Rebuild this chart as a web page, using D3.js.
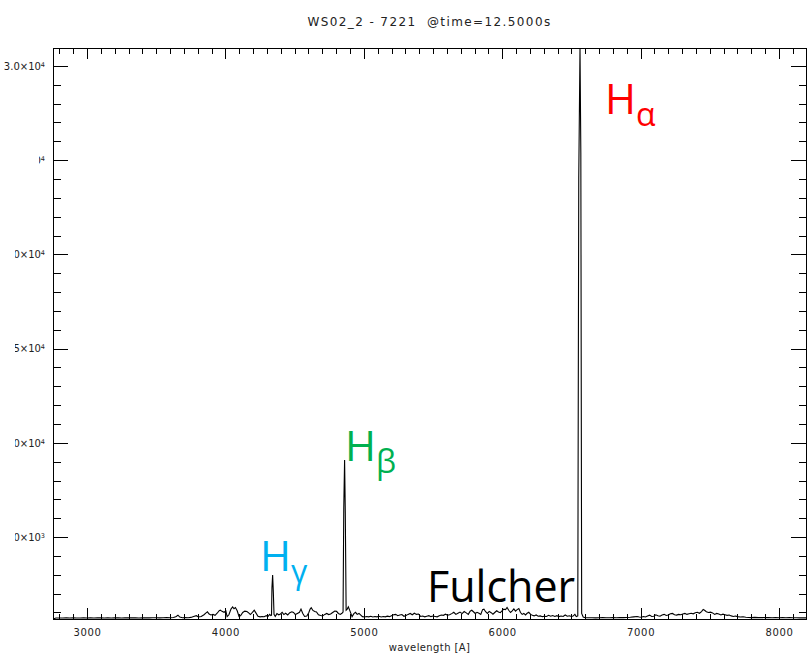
<!DOCTYPE html>
<html>
<head>
<meta charset="utf-8">
<script src="https://cdn.jsdelivr.net/npm/d3@7"></script>
<style>
  body { margin: 0; background: #fff; }
  svg { display: block; }
</style>
</head>
<body>
<svg id="chart" width="808" height="656"></svg>
<script>
// Spectrum: [wavelength (Å), counts]
const spectrum = [
  [2754,655],[2775,705],[2800,712],[2825,706],[2850,715],[2875,708],[2900,714],[2925,707],[2950,712],[2975,718],
  [3000,710],[3025,716],[3050,708],[3075,714],[3100,720],[3125,711],[3150,716],[3175,709],[3200,714],[3225,720],
  [3250,712],[3275,716],[3300,722],[3325,713],[3350,718],[3375,711],[3400,716],[3425,722],[3450,714],[3475,719],
  [3500,725],[3525,716],[3550,721],[3575,728],[3600,720],[3625,735],[3645,790],[3657,860],[3670,760],[3690,725],
  [3710,730],[3730,722],[3750,740],[3770,790],[3790,830],[3805,760],[3825,790],[3845,880],[3860,980],[3870,1035],
  [3882,920],[3895,870],[3910,900],[3925,850],[3940,960],[3955,1100],[3963,1125],[3975,1060],[3990,1010],[4003,1080],
  [4012,780],[4025,880],[4040,1180],[4052,1300],[4062,1200],[4072,1260],[4085,1090],[4098,790],[4110,840],[4125,1000],
  [4140,1072],[4155,1050],[4168,980],[4180,890],[4195,1010],[4208,1125],[4220,980],[4235,800],[4250,770],[4265,790],
  [4280,775],[4295,830],[4308,790],[4320,900],[4328,840],[4333,860],[4336,2300],[4341,2985],[4346,2100],[4351,900],
  [4360,790],[4372,940],[4385,880],[4398,920],[4410,1010],[4422,890],[4435,960],[4450,870],[4465,990],[4480,1040],
  [4492,1000],[4505,890],[4520,950],[4535,1010],[4546,1180],[4558,960],[4572,790],[4588,810],[4602,990],[4612,1180],
  [4620,1250],[4632,1110],[4645,1050],[4658,1030],[4672,880],[4688,840],[4702,820],[4718,900],[4732,950],[4746,890],
  [4760,920],[4775,1000],[4790,1080],[4803,1060],[4816,950],[4830,900],[4842,960],[4850,1020],[4855,6540],[4861,9090],
  [4866,6300],[4872,1120],[4880,1180],[4888,1300],[4896,1150],[4905,980],[4915,780],[4928,940],[4940,1010],[4952,900],
  [4965,950],[4978,860],[4990,780],[5005,760],[5020,790],[5035,770],[5050,800],[5065,760],[5080,785],[5095,770],
  [5110,800],[5125,765],[5140,790],[5155,770],[5170,805],[5185,780],[5200,830],[5215,880],[5230,900],[5245,830],
  [5260,870],[5275,890],[5290,800],[5305,840],[5320,900],[5335,950],[5350,880],[5365,960],[5380,900],[5395,920],
  [5410,790],[5425,810],[5440,770],[5455,800],[5470,830],[5485,780],[5500,810],[5515,790],[5530,770],[5545,830],
  [5560,870],[5575,850],[5590,910],[5605,860],[5620,880],[5635,940],[5650,1010],[5665,900],[5680,960],[5695,1020],
  [5710,940],[5725,1050],[5740,980],[5755,900],[5768,1070],[5780,1120],[5792,1040],[5805,950],[5818,1010],[5832,960],
  [5845,900],[5858,1150],[5868,1180],[5880,1040],[5893,950],[5906,1060],[5920,990],[5933,910],[5946,1000],[5960,1090],
  [5973,1030],[5986,990],[6000,1100],[6012,1180],[6024,1150],[6035,1265],[6047,1120],[6060,1000],[6072,1090],[6084,1190],
  [6096,1070],[6108,1150],[6120,1210],[6132,1000],[6144,900],[6156,950],[6168,870],[6180,960],[6192,1010],[6205,900],
  [6218,850],[6230,820],[6245,870],[6260,800],[6275,820],[6290,780],[6305,800],[6320,790],[6335,850],[6350,800],
  [6365,840],[6380,790],[6395,830],[6410,780],[6425,810],[6440,790],[6455,870],[6470,800],[6485,825],[6500,790],
  [6512,810],[6525,900],[6535,780],[6546,820],[6553,24050],[6562,30950],[6568,25380],[6574,950],[6585,760],[6600,725],
  [6625,718],[6650,722],[6675,715],[6700,720],[6725,730],[6750,718],[6775,724],[6800,730],[6825,722],[6850,735],
  [6875,726],[6900,738],[6925,750],[6950,770],[6975,790],[6990,760],[7005,745],[7020,790],[7035,760],[7050,810],
  [7065,860],[7080,790],[7095,800],[7110,880],[7125,830],[7140,800],[7155,870],[7170,900],[7185,840],[7200,870],
  [7215,930],[7230,950],[7245,880],[7260,860],[7275,900],[7290,880],[7305,920],[7320,950],[7335,900],[7350,930],
  [7365,960],[7380,930],[7395,990],[7410,1010],[7425,960],[7440,1050],[7452,1160],[7462,1120],[7475,1040],[7490,1000],
  [7505,1020],[7520,980],[7535,900],[7550,950],[7565,920],[7580,870],[7595,910],[7610,880],[7625,850],[7640,870],
  [7655,820],[7670,790],[7685,810],[7700,780],[7720,760],[7740,770],[7760,745],[7780,738],[7800,730],[7825,742],
  [7850,728],[7875,735],[7900,726],[7925,732],[7950,724],[7975,730],[8000,722],[8025,728],[8050,720],[8075,726],
  [8100,718],[8125,724],[8150,716],[8175,722],[8195,712]
];

const xMajorTicks = [3000, 4000, 5000, 6000, 7000, 8000];
const xTickLabels = ["3000", "4000", "5000", "6000", "7000", "8000"];
const xMinorStep = 100;

const yMajorTicks = [5000, 10000, 15000, 20000, 25000, 30000];
const yTickMantissa = ["5.0", "1.0", "1.5", "2.0", "2.5", "3.0"];
const yTickExponent = ["3", "4", "4", "4", "4", "4"];
const yMinorStep = 1000;

// Emission line annotations: label, subscript, colour
const lineNames = ["H", "H", "H"];
const lineSubs = ["α", "β", "γ"];
const lineColors = ["#ff0000", "#00b050", "#00b0f0"];
const bandLabel = "Fulcher";

const titleText = "WS02_2 - 7221  @time=12.5000s";
const xAxisTitle = "wavelength [A]";

// ---- layout ----
const plot = { left: 53, right: 806, top: 48, bottom: 619 };
const svg = d3.select("#chart");
const tickFont = "'DejaVu Sans', sans-serif";

const x = d3.scaleLinear()
  .domain(d3.extent(spectrum, d => d[0]))
  .range([plot.left, plot.right]);
const y = d3.scaleLinear()
  .domain(d3.extent(spectrum, d => d[1]))
  .range([plot.bottom, plot.top]);

const defs = svg.append("defs");
defs.append("clipPath").attr("id", "plotClip")
  .append("rect")
  .attr("x", plot.left).attr("y", plot.top)
  .attr("width", plot.right - plot.left).attr("height", plot.bottom - plot.top);

// ---- spectrum ----
svg.append("path")
  .datum(spectrum)
  .attr("clip-path", "url(#plotClip)")
  .attr("fill", "none")
  .attr("stroke", "#000")
  .attr("stroke-width", 1.1)
  .attr("stroke-linejoin", "miter")
  .attr("d", d3.line().x(d => x(d[0])).y(d => y(d[1])));

// ---- axes ----
const [x0, x1] = x.domain();
const [y0, y1] = y.domain();
const xMinor = d3.range(Math.ceil(x0 / xMinorStep) * xMinorStep, x1, xMinorStep)
  .filter(v => !xMajorTicks.includes(v));
const yMinor = d3.range(Math.ceil(y0 / yMinorStep) * yMinorStep, y1, yMinorStep)
  .filter(v => !yMajorTicks.includes(v));

function ticks(axisGen, values, size, tx, ty) {
  const g = svg.append("g")
    .attr("transform", `translate(${tx},${ty})`)
    .call(axisGen.tickValues(values).tickSize(size).tickSizeOuter(0).tickFormat(""));
  g.select(".domain").remove();
  g.selectAll(".tick line").attr("stroke", "#000").attr("shape-rendering", "crispEdges");
  return g;
}

// minor ticks on all four sides
ticks(d3.axisBottom(x), xMinor, -5.5, 0, plot.bottom);
ticks(d3.axisTop(x), xMinor, -5.5, 0, plot.top);
ticks(d3.axisLeft(y), yMinor, -7.5, plot.left, 0);
ticks(d3.axisRight(y), yMinor, -7.5, plot.right, 0);
// major ticks without labels on top/right
ticks(d3.axisTop(x), xMajorTicks, -11, 0, plot.top);
ticks(d3.axisRight(y), yMajorTicks, -15, plot.right, 0);

// bottom axis with labels
const gxb = svg.append("g")
  .attr("transform", `translate(0,${plot.bottom})`)
  .call(d3.axisBottom(x).tickValues(xMajorTicks).tickSize(-11).tickSizeOuter(0)
    .tickPadding(10).tickFormat((d, i) => xTickLabels[i]));
gxb.select(".domain").remove();
gxb.selectAll(".tick line").attr("stroke", "#000").attr("shape-rendering", "crispEdges");
gxb.selectAll(".tick text")
  .attr("font-family", tickFont).attr("font-size", 10)
  .attr("letter-spacing", 0.7).attr("fill", "#222");

// left axis with labels (mantissa ×10^exponent)
const gyl = svg.append("g")
  .attr("transform", `translate(${plot.left},0)`)
  .call(d3.axisLeft(y).tickValues(yMajorTicks).tickSize(-15).tickSizeOuter(0)
    .tickPadding(8).tickFormat(""));
gyl.select(".domain").remove();
gyl.selectAll(".tick line").attr("stroke", "#000").attr("shape-rendering", "crispEdges");

// label clipping windows (left edge of the visible part, in page px)
const labelVisibleFrom = { 30000: 0, 25000: 39 };
gyl.selectAll(".tick").each(function (d, i) {
  const tick = d3.select(this);
  const from = labelVisibleFrom[d] !== undefined ? labelVisibleFrom[d] : 15;
  const cid = "yl" + i;
  defs.append("clipPath").attr("id", cid)
    .append("rect")
    .attr("x", from - plot.left).attr("y", -10)
    .attr("width", plot.left - from).attr("height", 20);
  const t = tick.select("text")
    .text(null)
    .attr("font-family", tickFont).attr("font-size", 10)
    .attr("fill", "#222")
    .attr("clip-path", `url(#${cid})`);
  t.append("tspan").text(yTickMantissa[i] + "×10");
  t.append("tspan").attr("dy", "-0.45em").attr("font-size", 6.5).text(yTickExponent[i]);
});

// frame
svg.append("rect")
  .attr("x", plot.left).attr("y", plot.top)
  .attr("width", plot.right - plot.left).attr("height", plot.bottom - plot.top)
  .attr("fill", "none").attr("stroke", "#000").attr("stroke-width", 1)
  .attr("shape-rendering", "crispEdges");

// ---- titles ----
svg.append("text")
  .attr("x", (plot.left + plot.right) / 2).attr("y", 26)
  .attr("text-anchor", "middle")
  .style("white-space", "pre")
  .attr("font-family", tickFont).attr("font-size", 12)
  .attr("letter-spacing", 1.4).attr("fill", "#222")
  .text(titleText);

svg.append("text")
  .attr("x", (plot.left + plot.right) / 2).attr("y", 651)
  .attr("text-anchor", "middle")
  .attr("font-family", tickFont).attr("font-size", 10)
  .attr("letter-spacing", 0.4).attr("fill", "#222")
  .text(xAxisTitle);

// ---- line annotations ----
const annFont = "'Open Sans', 'Noto Sans', sans-serif";
const annPos = [[605, 114], [345, 461], [260, 571]];
lineNames.forEach((name, i) => {
  const t = svg.append("text")
    .attr("x", annPos[i][0]).attr("y", annPos[i][1])
    .attr("font-family", annFont).attr("font-size", 42)
    .attr("fill", lineColors[i]);
  t.append("tspan").text(name);
  t.append("tspan").attr("dy", 12).attr("font-size", 32).text(lineSubs[i]);
});

svg.append("text")
  .attr("x", 427).attr("y", 602)
  .attr("font-family", annFont).attr("font-size", 43)
  .attr("fill", "#000")
  .text(bandLabel);
</script>
</body>
</html>
